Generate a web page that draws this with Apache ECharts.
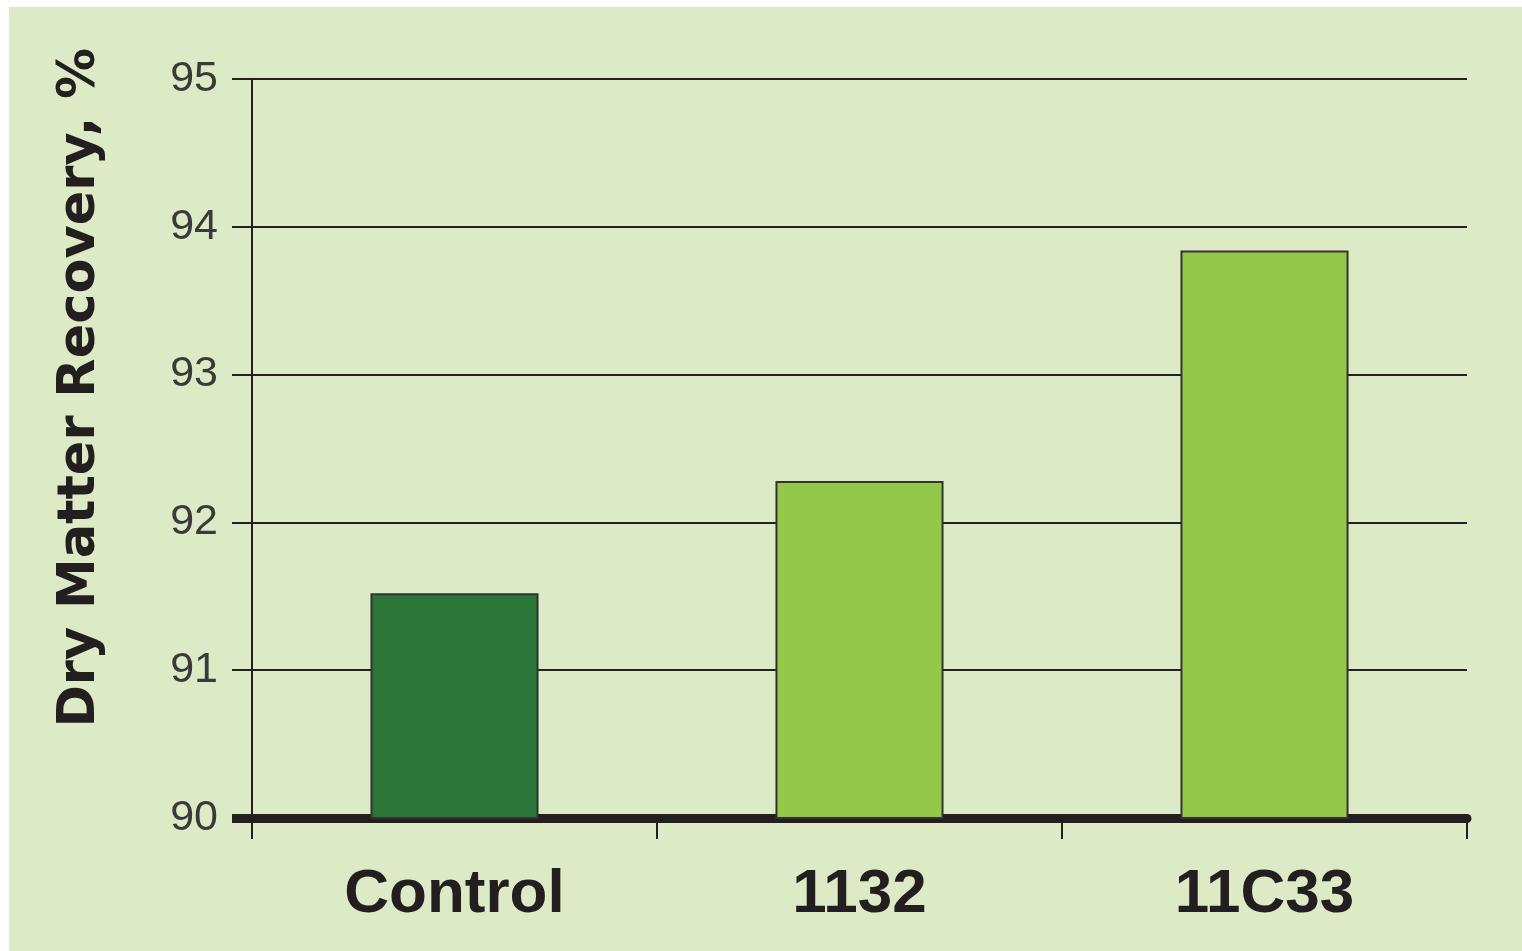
<!DOCTYPE html>
<html>
<head>
<meta charset="utf-8">
<script src="https://cdn.jsdelivr.net/npm/echarts@6/dist/echarts.min.js"></script>
<style>
  html, body { margin: 0; padding: 0; background: #fff; }
  #chart { position: absolute; left: 9px; top: 7px; width: 1513px; height: 944px; background: #dcebc5; }
</style>
</head>
<body>
<div id="chart"></div>
<script>
const categories = ["Control", "1132", "11C33"];
const recovery = [91.52, 92.28, 93.84];
const barColors = ["#2a7537", "#94c84a", "#94c84a"];
const yMin = 90;
const yMax = 95;
const yTitle = "Dry Matter Recovery, %";

const ink = "#231f20";
const chart = echarts.init(document.getElementById("chart"));

chart.setOption({
  animation: false,
  grid: { left: 243, right: 55, top: 72, bottom: 133 },
  graphic: [{
    type: "text",
    left: 46,
    top: 41,
    rotation: Math.PI / 2,
    style: {
      text: yTitle,
      font: "bold 51px 'DejaVu Sans'",
      fill: ink
    }
  }],
  xAxis: {
    type: "category",
    data: categories,
    axisLine: { lineStyle: { color: ink, width: 9 } },
    axisTick: { show: true, length: 21, lineStyle: { color: ink, width: 2 } },
    axisLabel: {
      margin: 46,
      color: ink,
      fontFamily: "Liberation Sans",
      fontWeight: "bold",
      fontSize: 62
    }
  },
  yAxis: [{
    type: "value",
    min: yMin,
    max: yMax,
    interval: 1,
    axisLine: { show: true, lineStyle: { color: ink, width: 2 } },
    axisTick: { show: true, length: 20, lineStyle: { color: ink, width: 2 } },
    splitLine: { show: true, lineStyle: { color: ink, width: 2 } },
    axisLabel: {
      margin: 34,
      color: "#3a3a3a",
      fontFamily: "Liberation Sans",
      fontSize: 43
    }
  }, {
    // thick stub of the baseline left of the y axis
    type: "value",
    min: yMin,
    max: yMax,
    position: "left",
    axisLine: { show: false },
    splitLine: { show: false },
    axisLabel: { show: false },
    axisTick: { show: true, customValues: [yMin], length: 20, lineStyle: { color: ink, width: 9 } }
  }],
  series: [{
    type: "bar",
    barWidth: "41.5%",
    data: recovery.map((v, i) => ({
      value: v,
      itemStyle: { color: barColors[i], borderColor: "#333", borderWidth: 2 }
    }))
  }]
});
</script>
</body>
</html>
